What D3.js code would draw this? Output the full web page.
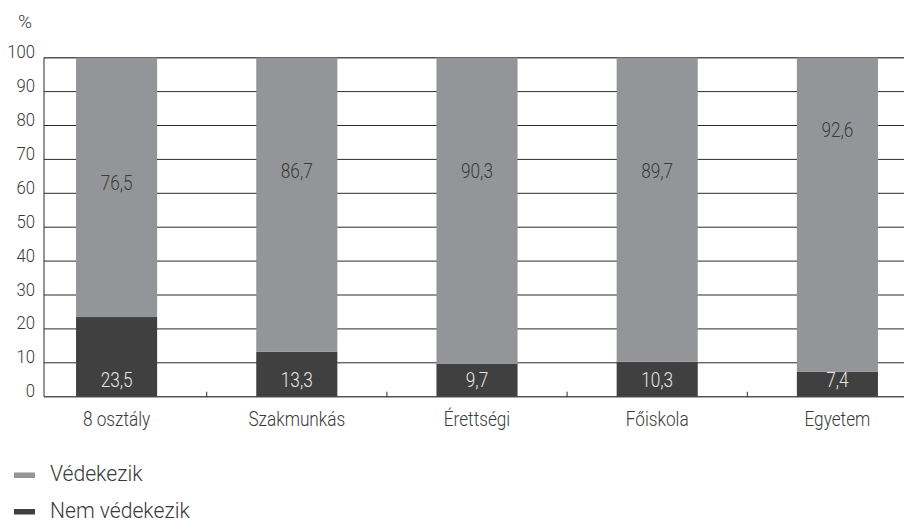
<!DOCTYPE html>
<html>
<head>
<meta charset="utf-8">
<script src="https://cdn.jsdelivr.net/npm/d3@7"></script>
<style>
  html, body { margin: 0; padding: 0; background: #ffffff; }
  svg { display: block; }
  text { font-family: Roboto, "Noto Sans", sans-serif; font-weight: 300; }
</style>
</head>
<body>
<svg id="chart" width="904" height="522"></svg>
<script>
// Education level categories
const categories = ["8 osztály", "Szakmunkás", "Érettségi", "Főiskola", "Egyetem"];
// Share (%) that does not protect itself (bottom segment)
const nemVedekezik = [23.5, 13.3, 9.7, 10.3, 7.4];
// Share (%) that protects itself (top segment)
const vedekezik = [76.5, 86.7, 90.3, 89.7, 92.6];
// Y axis tick values
const yTicks = [0, 10, 20, 30, 40, 50, 60, 70, 80, 90, 100];
// Series names for the legend
const seriesNames = ["Védekezik", "Nem védekezik"];

const colors = { "Védekezik": "#939598", "Nem védekezik": "#404041" };
const fmt = v => String(v).replace(".", ",");

const svg = d3.select("#chart");
const plotLeft = 44, plotRight = 904;

const y = d3.scaleLinear().domain([0, 100]).range([396.7, 57.7]);
const x = d3.scaleBand().domain(categories).range([26.5, 927.5]).padding(0);
const barW = x.bandwidth() * 0.45;
const cx = c => x(c) + x.bandwidth() / 2;

// text helper: horizontally squeezed light type
function label(g, px, py, str, size, anchor, fill, sx = 0.82) {
  return g.append("text")
    .attr("transform", `translate(${px},${py}) scale(${sx},1)`)
    .attr("text-anchor", anchor)
    .attr("font-size", size)
    .attr("fill", fill)
    .text(str);
}

// gridlines
const grid = svg.append("g");
grid.selectAll("line").data(yTicks).join("line")
  .attr("x1", plotLeft).attr("x2", plotRight)
  .attr("y1", d => y(d)).attr("y2", d => y(d))
  .attr("stroke", d => (d === 0 || d === 100) ? "#555" : "#2a2a2a")
  .attr("stroke-width", d => (d === 0 || d === 100) ? 1.4 : 1);

// y axis line
svg.append("line")
  .attr("x1", plotLeft).attr("x2", plotLeft)
  .attr("y1", y(100)).attr("y2", y(0))
  .attr("stroke", "#2a2a2a").attr("stroke-width", 1);

// separator ticks between categories
svg.append("g").selectAll("line").data(categories.slice(1)).join("line")
  .attr("x1", d => x(d)).attr("x2", d => x(d))
  .attr("y1", y(0)).attr("y2", y(0) - 5)
  .attr("stroke", "#2a2a2a").attr("stroke-width", 1);

// stacked bars
const rows = categories.map((c, i) => ({ c, nem: nemVedekezik[i], ved: vedekezik[i] }));
const bars = svg.append("g");
bars.selectAll("rect.nem").data(rows).join("rect")
  .attr("class", "nem")
  .attr("x", d => cx(d.c) - barW / 2).attr("width", barW)
  .attr("y", d => y(d.nem)).attr("height", d => y(0) - y(d.nem))
  .attr("fill", colors["Nem védekezik"]);
bars.selectAll("rect.ved").data(rows).join("rect")
  .attr("class", "ved")
  .attr("x", d => cx(d.c) - barW / 2).attr("width", barW)
  .attr("y", d => y(d.nem + d.ved)).attr("height", d => y(d.nem) - y(d.nem + d.ved))
  .attr("fill", colors["Védekezik"]);

// value labels
const vals = svg.append("g");
const topLabelAt = [61, 64.5, 64.5, 64.5, 76.6]; // baseline level on the value scale
rows.forEach((d, i) => {
  label(vals, cx(d.c), y(topLabelAt[i]), fmt(d.ved), 21, "middle", "#3a3a3a");
  label(vals, cx(d.c), y(3), fmt(d.nem), 21, "middle", "#e6e6e6");
});

// y tick labels
const yl = svg.append("g");
yTicks.forEach(t => label(yl, 35, y(t) + 0.5, String(t), 19, "end", "#3a3a3a", 0.88));
label(yl, 18, 28, "%", 19, "start", "#3a3a3a", 1.0);

// category labels
const xl = svg.append("g");
categories.forEach(c => label(xl, cx(c), 425.5, c, 21, "middle", "#3a3a3a"));

// legend
const lg = svg.append("g");
seriesNames.forEach((s, i) => {
  const ly = 475 + i * 36.5;
  lg.append("rect").attr("x", 14).attr("y", ly - 2.5).attr("width", 21).attr("height", 5.5)
    .attr("fill", colors[s]);
  label(lg, 50, ly + 6, s, 22, "start", "#3a3a3a", 0.96);
});
</script>
</body>
</html>
